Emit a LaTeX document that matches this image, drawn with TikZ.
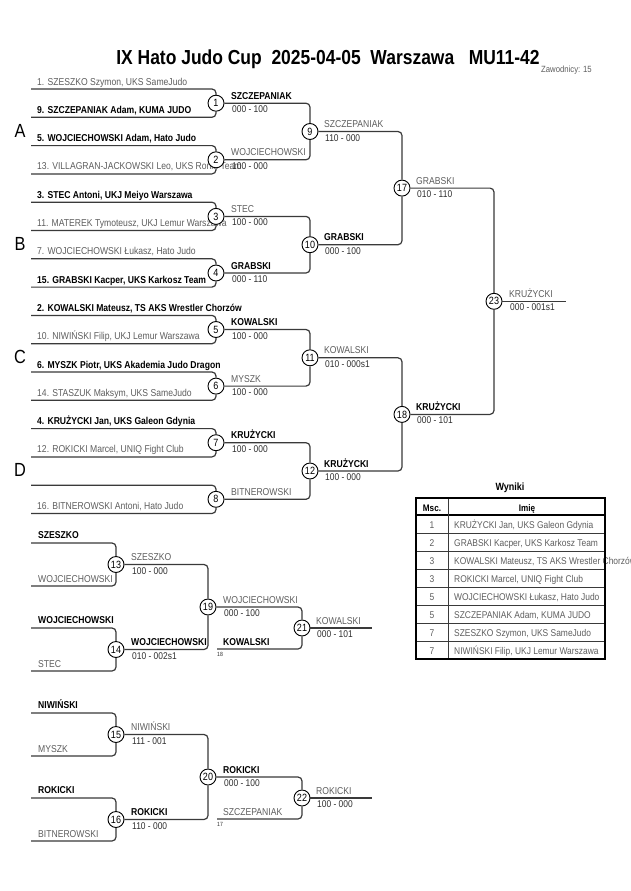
\documentclass[tikz,border=0pt]{standalone}
\usepackage{fontspec}
\setmainfont{Liberation Sans}[FakeStretch=0.86]
\usepackage{xcolor}
\usepackage{tikz}
\usetikzlibrary{positioning}
\definecolor{linegray}{HTML}{3A3A3A}
\definecolor{namegray}{HTML}{5E5E5E}
\definecolor{scoregray}{HTML}{2E2E2E}
\tikzset{
    bracket/.style={
        draw=linegray,
        line width=1.2pt,
        rounded corners=4pt
    },
    fight/.style={
        circle,
        draw=black,
        fill=white,
        line width=0.9pt,
        inner sep=0pt,
        minimum size=16pt,
        font=\fontsize{10.5}{12}\selectfont
    },
    winname/.style={
        anchor=base west,
        inner sep=0pt,
        text=black,
        font=\bfseries\fontsize{10}{12}\selectfont
    },
    losename/.style={
        anchor=base west,
        inner sep=0pt,
        text=namegray,
        font=\fontsize{10}{12}\selectfont
    },
    score/.style={
        anchor=base west,
        inner sep=0pt,
        text=scoregray,
        font=\fontsize{9.8}{11}\selectfont
    },
    pool/.style={
        anchor=base,
        inner sep=0pt,
        font=\fontsize{19}{22}\selectfont
    },
    fromtag/.style={
        anchor=base west,
        inner sep=0pt,
        text=scoregray,
        font=\fontsize{6}{7}\selectfont
    },
    cell/.style={
        anchor=base west,
        inner sep=0pt,
        text=namegray,
        font=\fontsize{9.8}{11}\selectfont
    }
}

\begin{document}
\begin{tikzpicture}[x=1pt, y=-1pt]
    \useasboundingbox[fill=white] (0,0) rectangle (630,891);

    \node[anchor=base, inner sep=0pt, font=\bfseries\fontsize{20.3}{24}\selectfont] (title) at (328,65) {IX Hato Judo Cup\ \ 2025-04-05\ \ Warszawa\ \ \ MU11-42};
    \node[anchor=base east, inner sep=0pt, text=namegray, font=\fontsize{9}{10}\selectfont] (count) at (592,72) {Zawodnicy: 15};

    \coordinate (e1) at (31,89);
    \coordinate (e2) at (31,117.3);
    \coordinate (e3) at (31,145.6);
    \coordinate (e4) at (31,173.9);
    \coordinate (e5) at (31,202.2);
    \coordinate (e6) at (31,230.5);
    \coordinate (e7) at (31,258.8);
    \coordinate (e8) at (31,287.1);
    \coordinate (e9) at (31,315.4);
    \coordinate (e10) at (31,343.7);
    \coordinate (e11) at (31,372);
    \coordinate (e12) at (31,400.3);
    \coordinate (e13) at (31,428.6);
    \coordinate (e14) at (31,456.9);
    \coordinate (e15) at (31,485.2);
    \coordinate (e16) at (31,513.5);

    \node[losename] (n1) at (37,85) {1. SZESZKO Szymon, UKS SameJudo};
    \node[winname] (n2) at (37,113.3) {9. SZCZEPANIAK Adam, KUMA JUDO};
    \node[winname] (n3) at (37,141.6) {5. WOJCIECHOWSKI Adam, Hato Judo};
    \node[losename] (n4) at (37,169.9) {13. VILLAGRAN-JACKOWSKI Leo, UKS Ronin Team};
    \node[winname] (n5) at (37,198.2) {3. STEC Antoni, UKJ Meiyo Warszawa};
    \node[losename] (n6) at (37,226.5) {11. MATEREK Tymoteusz, UKJ Lemur Warszawa};
    \node[losename] (n7) at (37,254.8) {7. WOJCIECHOWSKI Łukasz, Hato Judo};
    \node[winname] (n8) at (37,283.1) {15. GRABSKI Kacper, UKS Karkosz Team};
    \node[winname] (n9) at (37,311.4) {2. KOWALSKI Mateusz, TS AKS Wrestler Chorzów};
    \node[losename] (n10) at (37,339.7) {10. NIWIŃSKI Filip, UKJ Lemur Warszawa};
    \node[winname] (n11) at (37,368) {6. MYSZK Piotr, UKS Akademia Judo Dragon};
    \node[losename] (n12) at (37,396.3) {14. STASZUK Maksym, UKS SameJudo};
    \node[winname] (n13) at (37,424.6) {4. KRUŻYCKI Jan, UKS Galeon Gdynia};
    \node[losename] (n14) at (37,452.9) {12. ROKICKI Marcel, UNIQ Fight Club};
    \node[losename] (n16) at (37,509.5) {16. BITNEROWSKI Antoni, Hato Judo};

    \node[pool] (pa) at (20,137) {A};
    \node[pool] (pb) at (20,250.2) {B};
    \node[pool] (pc) at (20,363.3) {C};
    \node[pool] (pd) at (20,476.5) {D};

    \node[fight] (m1) at (216,103.2) {1};
    \node[fight] (m2) at (216,159.8) {2};
    \node[fight] (m3) at (216,216.4) {3};
    \node[fight] (m4) at (216,273) {4};
    \node[fight] (m5) at (216,329.5) {5};
    \node[fight] (m6) at (216,386.1) {6};
    \node[fight] (m7) at (216,442.7) {7};
    \node[fight] (m8) at (216,499.3) {8};
    \node[fight] (m9) at (310,131.5) {9};
    \node[fight] (m10) at (310,244.7) {10};
    \node[fight] (m11) at (310,357.8) {11};
    \node[fight] (m12) at (310,471) {12};
    \node[fight] (m17) at (402,188.1) {17};
    \node[fight] (m18) at (402,414.4) {18};
    \node[fight] (m23) at (494,301.3) {23};
    \coordinate (fin) at (566,301.3);

    \draw[bracket] (e1) -| (m1);
    \draw[bracket] (e2) -| (m1);
    \draw[bracket] (e3) -| (m2);
    \draw[bracket] (e4) -| (m2);
    \draw[bracket] (e5) -| (m3);
    \draw[bracket] (e6) -| (m3);
    \draw[bracket] (e7) -| (m4);
    \draw[bracket] (e8) -| (m4);
    \draw[bracket] (e9) -| (m5);
    \draw[bracket] (e10) -| (m5);
    \draw[bracket] (e11) -| (m6);
    \draw[bracket] (e12) -| (m6);
    \draw[bracket] (e13) -| (m7);
    \draw[bracket] (e14) -| (m7);
    \draw[bracket] (e15) -| (m8);
    \draw[bracket] (e16) -| (m8);
    \draw[bracket] (m1) -| (m9);
    \draw[bracket] (m2) -| (m9);
    \draw[bracket] (m3) -| (m10);
    \draw[bracket] (m4) -| (m10);
    \draw[bracket] (m5) -| (m11);
    \draw[bracket] (m6) -| (m11);
    \draw[bracket] (m7) -| (m12);
    \draw[bracket] (m8) -| (m12);
    \draw[bracket] (m9) -| (m17);
    \draw[bracket] (m10) -| (m17);
    \draw[bracket] (m11) -| (m18);
    \draw[bracket] (m12) -| (m18);
    \draw[bracket] (m17) -| (m23);
    \draw[bracket] (m18) -| (m23);
    \draw[bracket] (m23) -- (fin);

    \node[winname] (w1) at (231,99.2) {SZCZEPANIAK};
    \node[score] (s1) at (232,112.7) {000 - 100};
    \node[losename] (w2) at (231,155.8) {WOJCIECHOWSKI};
    \node[score] (s2) at (232,169.3) {100 - 000};
    \node[losename] (w3) at (231,212.4) {STEC};
    \node[score] (s3) at (232,225.9) {100 - 000};
    \node[winname] (w4) at (231,269) {GRABSKI};
    \node[score] (s4) at (232,282.5) {000 - 110};
    \node[winname] (w5) at (231,325.5) {KOWALSKI};
    \node[score] (s5) at (232,339) {100 - 000};
    \node[losename] (w6) at (231,382.1) {MYSZK};
    \node[score] (s6) at (232,395.6) {100 - 000};
    \node[winname] (w7) at (231,438.7) {KRUŻYCKI};
    \node[score] (s7) at (232,452.2) {100 - 000};
    \node[losename] (w8) at (231,495.3) {BITNEROWSKI};
    \node[losename] (w9) at (324,127.5) {SZCZEPANIAK};
    \node[score] (s9) at (325,141) {110 - 000};
    \node[winname] (w10) at (324,240.7) {GRABSKI};
    \node[score] (s10) at (325,254.2) {000 - 100};
    \node[losename] (w11) at (324,353.8) {KOWALSKI};
    \node[score] (s11) at (325,367.3) {010 - 000s1};
    \node[winname] (w12) at (324,467) {KRUŻYCKI};
    \node[score] (s12) at (325,480.5) {100 - 000};
    \node[losename] (w17) at (416,184.1) {GRABSKI};
    \node[score] (s17) at (417,197.6) {010 - 110};
    \node[winname] (w18) at (416,410.4) {KRUŻYCKI};
    \node[score] (s18) at (417,423.9) {000 - 101};
    \node[losename] (w23) at (509,297.3) {KRUŻYCKI};
    \node[score] (s23) at (510,310.8) {000 - 001s1};

    \coordinate (r1) at (31,543);
    \coordinate (r2) at (31,586);
    \coordinate (r3) at (31,628);
    \coordinate (r4) at (31,671);
    \coordinate (r5) at (31,713);
    \coordinate (r6) at (31,756);
    \coordinate (r7) at (31,798);
    \coordinate (r8) at (31,841);
    \coordinate (in18) at (217,649);
    \coordinate (in17) at (217,819);
    \coordinate (fin21) at (372,628);
    \coordinate (fin22) at (372,798);

    \node[winname] (q1) at (38,538.5) {SZESZKO};
    \node[losename] (q2) at (38,582) {WOJCIECHOWSKI};
    \node[winname] (q3) at (38,623.5) {WOJCIECHOWSKI};
    \node[losename] (q4) at (38,667) {STEC};
    \node[winname] (q5) at (38,708.5) {NIWIŃSKI};
    \node[losename] (q6) at (38,752) {MYSZK};
    \node[winname] (q7) at (38,793.5) {ROKICKI};
    \node[losename] (q8) at (38,837) {BITNEROWSKI};

    \node[fight] (m13) at (116,564.5) {13};
    \node[fight] (m14) at (116,649.5) {14};
    \node[fight] (m15) at (116,734.5) {15};
    \node[fight] (m16) at (116,819.5) {16};
    \node[fight] (m19) at (208,607) {19};
    \node[fight] (m20) at (208,777) {20};
    \node[fight] (m21) at (302,628) {21};
    \node[fight] (m22) at (302,798) {22};

    \draw[bracket] (r1) -| (m13);
    \draw[bracket] (r2) -| (m13);
    \draw[bracket] (r3) -| (m14);
    \draw[bracket] (r4) -| (m14);
    \draw[bracket] (r5) -| (m15);
    \draw[bracket] (r6) -| (m15);
    \draw[bracket] (r7) -| (m16);
    \draw[bracket] (r8) -| (m16);
    \draw[bracket] (m13) -| (m19);
    \draw[bracket] (m14) -| (m19);
    \draw[bracket] (m15) -| (m20);
    \draw[bracket] (m16) -| (m20);
    \draw[bracket] (m19) -| (m21);
    \draw[bracket] (in18) -| (m21);
    \draw[bracket] (m20) -| (m22);
    \draw[bracket] (in17) -| (m22);
    \draw[bracket] (m21) -- (fin21);
    \draw[bracket] (m22) -- (fin22);

    \node[losename] (w13) at (131,560.5) {SZESZKO};
    \node[score] (s13) at (132,574) {100 - 000};
    \node[winname] (w14) at (131,645.5) {WOJCIECHOWSKI};
    \node[score] (s14) at (132,659) {010 - 002s1};
    \node[losename] (w15) at (131,730.5) {NIWIŃSKI};
    \node[score] (s15) at (132,744) {111 - 001};
    \node[winname] (w16) at (131,815.5) {ROKICKI};
    \node[score] (s16) at (132,829) {110 - 000};
    \node[losename] (w19) at (223,603) {WOJCIECHOWSKI};
    \node[score] (s19) at (224,616.5) {000 - 100};
    \node[winname] (w20) at (223,773) {ROKICKI};
    \node[score] (s20) at (224,786.5) {000 - 100};
    \node[winname] (k18) at (223,645) {KOWALSKI};
    \node[fromtag] (t18) at (217,656) {18};
    \node[losename] (k17) at (223,815) {SZCZEPANIAK};
    \node[fromtag] (t17) at (217,826) {17};
    \node[losename] (w21) at (316,624) {KOWALSKI};
    \node[score] (s21) at (317,637.5) {000 - 101};
    \node[losename] (w22) at (316,794) {ROKICKI};
    \node[score] (s22) at (317,807.5) {100 - 000};

    \node[anchor=base, inner sep=0pt, font=\bfseries\fontsize{10.5}{12}\selectfont] (wyniki) at (510,490) {Wyniki};
    \node[anchor=base, inner sep=0pt, font=\bfseries\fontsize{9.5}{11}\selectfont] (hmsc) at (432,511) {Msc.};
    \node[anchor=base, inner sep=0pt, font=\bfseries\fontsize{9.5}{11}\selectfont] (himie) at (527,511) {Imię};
    \foreach \p/\n [count=\r] in {1/{KRUŻYCKI Jan, UKS Galeon Gdynia},
            2/{GRABSKI Kacper, UKS Karkosz Team},
            3/{KOWALSKI Mateusz, TS AKS Wrestler Chorzów},
            3/{ROKICKI Marcel, UNIQ Fight Club},
            5/{WOJCIECHOWSKI Łukasz, Hato Judo},
            5/{SZCZEPANIAK Adam, KUMA JUDO},
            7/{SZESZKO Szymon, UKS SameJudo},
            7/{NIWIŃSKI Filip, UKJ Lemur Warszawa}} {
        \node[cell, anchor=base] (place\r) at (432,{515+18*(\r-1)+13}) {\p};
        \node[cell] (name\r) at (454,{515+18*(\r-1)+13}) {\n};
        \draw[draw=linegray, line width=0.8pt] (416,{515+18*\r}) -- (605,{515+18*\r});
    }
    \draw[line width=1.3pt] (416,515) -- (605,515);
    \draw[draw=linegray, line width=0.8pt] (448,498) -- (448,659);
    \draw[line width=1.8pt] (416,498) rectangle (605,659);
\end{tikzpicture}
\end{document}
